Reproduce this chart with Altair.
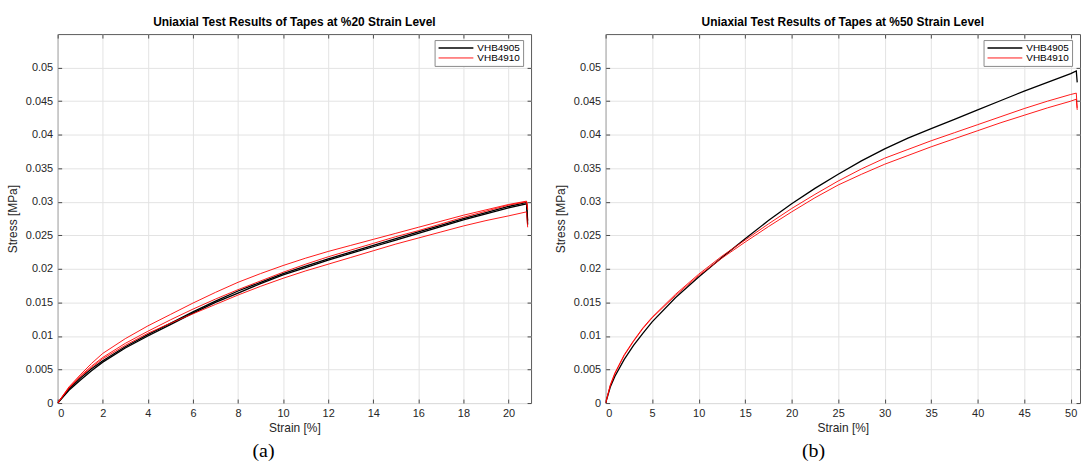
import altair as alt
import pandas as pd

TAPES = ["VHB4905", "VHB4910"]
COLORS = ["#000000", "#ff0000"]
Y_TICKS = [0, 0.005, 0.01, 0.015, 0.02, 0.025, 0.03, 0.035, 0.04, 0.045, 0.05]

# ---- panel (a): 20 % strain level ----
A_TITLE = "Uniaxial Test Results of Tapes at %20 Strain Level"
A_XTICKS = [0, 2, 4, 6, 8, 10, 12, 14, 16, 18, 20]
A_STRAIN = [0, 0.5, 1, 1.5, 2, 3, 4, 5, 6, 7, 8, 9, 10, 11, 12, 13, 14, 15,
            16, 17, 18, 19, 20, 20.8, 20.85]
A_4905_1 = [0, 0.0021, 0.0037, 0.0051, 0.0063, 0.0084, 0.0102, 0.0119, 0.0136,
            0.0152, 0.0167, 0.0180, 0.0193, 0.0204, 0.0215, 0.0225, 0.0235,
            0.0245, 0.0255, 0.0265, 0.0275, 0.0284, 0.0293, 0.0299, 0.0266]
A_4905_2 = [0, 0.0019, 0.0034, 0.0048, 0.0061, 0.0082, 0.0100, 0.0117, 0.0134,
            0.0150, 0.0164, 0.0178, 0.0191, 0.0202, 0.0213, 0.0223, 0.0233,
            0.0243, 0.0253, 0.0263, 0.0273, 0.0282, 0.0291, 0.0297, 0.0272]
A_4910_1 = [0, 0.0024, 0.0042, 0.0059, 0.0074, 0.0096, 0.0115, 0.0132, 0.0149,
            0.0165, 0.0180, 0.0193, 0.0205, 0.0216, 0.0226, 0.0235, 0.0244,
            0.0253, 0.0262, 0.0271, 0.0280, 0.0288, 0.0296, 0.0301, 0.0288]
A_4910_2 = [0, 0.0023, 0.0040, 0.0055, 0.0068, 0.0089, 0.0107, 0.0124, 0.0140,
            0.0155, 0.0169, 0.0182, 0.0195, 0.0207, 0.0218, 0.0228, 0.0238,
            0.0248, 0.0257, 0.0267, 0.0277, 0.0286, 0.0295, 0.0300, 0.0290]
A_4910_3 = [0, 0.0022, 0.0039, 0.0053, 0.0066, 0.0086, 0.0104, 0.0119, 0.0133,
            0.0147, 0.0161, 0.0174, 0.0186, 0.0197, 0.0207, 0.0217, 0.0227,
            0.0237, 0.0246, 0.0255, 0.0264, 0.0272, 0.0279, 0.0285, 0.0262]

# ---- panel (b): 50 % strain level ----
B_TITLE = "Uniaxial Test Results of Tapes at %50 Strain Level"
B_XTICKS = [0, 5, 10, 15, 20, 25, 30, 35, 40, 45, 50]
B_STRAIN = [0, 0.5, 1, 2, 3, 4, 5, 7.5, 10, 12.5, 15, 17.5, 20, 22.5, 25, 27.5,
            30, 32.5, 35, 37.5, 40, 42.5, 45, 47.5, 50, 50.6, 50.7]
B_4905_1 = [0, 0.0024, 0.0040, 0.0065, 0.0086, 0.0104, 0.0121, 0.0157, 0.0188,
            0.0217, 0.0245, 0.0272, 0.0297, 0.0320, 0.0341, 0.0361, 0.0379,
            0.0395, 0.0409, 0.0423, 0.0437, 0.0451, 0.0465, 0.0478, 0.0491,
            0.0495, 0.0478]
B_4910_1 = [0, 0.0027, 0.0045, 0.0072, 0.0093, 0.0112, 0.0128, 0.0162, 0.0192,
            0.0219, 0.0243, 0.0267, 0.0290, 0.0311, 0.0331, 0.0349, 0.0365,
            0.0378, 0.0391, 0.0403, 0.0415, 0.0427, 0.0439, 0.0450, 0.0460,
            0.0462, 0.0440]
B_4910_2 = [0, 0.0026, 0.0044, 0.0071, 0.0092, 0.0111, 0.0127, 0.0160, 0.0190,
            0.0216, 0.0240, 0.0263, 0.0285, 0.0306, 0.0325, 0.0341, 0.0356,
            0.0369, 0.0382, 0.0394, 0.0406, 0.0418, 0.0429, 0.0440, 0.0450,
            0.0453, 0.0437]

FONT = "Liberation Sans"
TICK_COLOR = "#4a4a4a"


def build_df(strain, curves):
    rows = []
    for name, tape, vals in curves:
        for i, (s, v) in enumerate(zip(strain, vals)):
            rows.append({"strain": s, "stress": v, "curve": name,
                         "tape": tape, "idx": i})
    return pd.DataFrame(rows)


def panel(df, title, xmax, xticks, width, tag, tag_x):
    xscale = alt.Scale(domain=[0, xmax], nice=False, zero=False)
    yscale = alt.Scale(domain=[0, 0.055], nice=False)
    base = alt.Chart(df).mark_line(clip=True).encode(
        x=alt.X("strain:Q", scale=xscale,
                axis=alt.Axis(values=xticks, title="Strain [%]", format="~g",
                              ticks=True, tickSize=4, offset=-4,
                              tickColor=TICK_COLOR, labelPadding=5)),
        y=alt.Y("stress:Q", scale=yscale,
                axis=alt.Axis(values=Y_TICKS, title="Stress [MPa]",
                              format=".3~f", ticks=True, tickSize=4,
                              offset=-4, tickColor=TICK_COLOR,
                              labelPadding=5, titlePadding=6)),
        color=alt.Color("tape:N",
                        scale=alt.Scale(domain=TAPES, range=COLORS),
                        legend=alt.Legend(
                            title=None, orient="none",
                            legendX=width - 97, legendY=6,
                            symbolType="stroke", symbolSize=1225,
                            symbolStrokeWidth=1, clipHeight=10,
                            labelFont=FONT, labelFontSize=10,
                            labelColor="#000000", labelOffset=3,
                            fillColor="#ffffff", strokeColor="#8a8a8a",
                            padding=3, rowPadding=0)),
        strokeWidth=alt.StrokeWidth("tape:N",
                                    scale=alt.Scale(domain=TAPES, range=[1.3, 0.9]),
                                    legend=None),
        detail="curve:N",
        order="idx:Q",
    )
    # invisible copy that carries the inward ticks of the top and right edges
    box = alt.Chart(df).mark_point(opacity=0).encode(
        x=alt.X("strain:Q", scale=xscale,
                axis=alt.Axis(values=xticks, orient="top", labels=False,
                              title=None, grid=False, ticks=True, tickSize=4,
                              offset=-4, tickColor=TICK_COLOR)),
        y=alt.Y("stress:Q", scale=yscale,
                axis=alt.Axis(values=Y_TICKS, orient="right", labels=False,
                              title=None, grid=False, ticks=True, tickSize=4,
                              offset=-4, tickColor=TICK_COLOR)),
    )
    lab = alt.Chart(pd.DataFrame({"t": [tag]})).mark_text(
        font="Liberation Serif", fontSize=20, color="#000000",
        align="center", baseline="middle"
    ).encode(text="t:N", x=alt.value(tag_x), y=alt.value(419))
    return alt.layer(base, box, lab).resolve_axis(
        x="independent", y="independent"
    ).properties(
        width=width, height=371,
        title=alt.TitleParams(title, font=FONT, fontSize=12,
                              fontWeight="bold", color="#000000", offset=5))


df_a = build_df(A_STRAIN, [("VHB4905 a1", "VHB4905", A_4905_1),
                           ("VHB4905 a2", "VHB4905", A_4905_2),
                           ("VHB4910 a1", "VHB4910", A_4910_1),
                           ("VHB4910 a2", "VHB4910", A_4910_2),
                           ("VHB4910 a3", "VHB4910", A_4910_3)])
df_b = build_df(B_STRAIN, [("VHB4905 b1", "VHB4905", B_4905_1),
                           ("VHB4910 b1", "VHB4910", B_4910_1),
                           ("VHB4910 b2", "VHB4910", B_4910_2)])

left = panel(df_a, A_TITLE, 21, A_XTICKS, 476, "(a)", 207)
right = panel(df_b, B_TITLE, 51, B_XTICKS, 477, "(b)", 209)

chart = alt.hconcat(left, right, spacing=21).resolve_scale(
    color="independent", strokeWidth="independent"
).properties(
    padding={"left": 5, "top": 14, "right": 0, "bottom": 0},
    background="#ffffff",
).configure_view(
    stroke="#5a5a5a", strokeWidth=1
).configure_axis(
    labelFont=FONT, labelFontSize=11, labelColor="#262626",
    titleFont=FONT, titleFontSize=12, titleFontWeight="normal",
    titleColor="#262626",
    gridColor="#e3e3e3", gridWidth=1, domain=False,
    labelPadding=5, titlePadding=4,
)

chart.save("out.html", embed_options={"renderer": "svg", "actions": False})
